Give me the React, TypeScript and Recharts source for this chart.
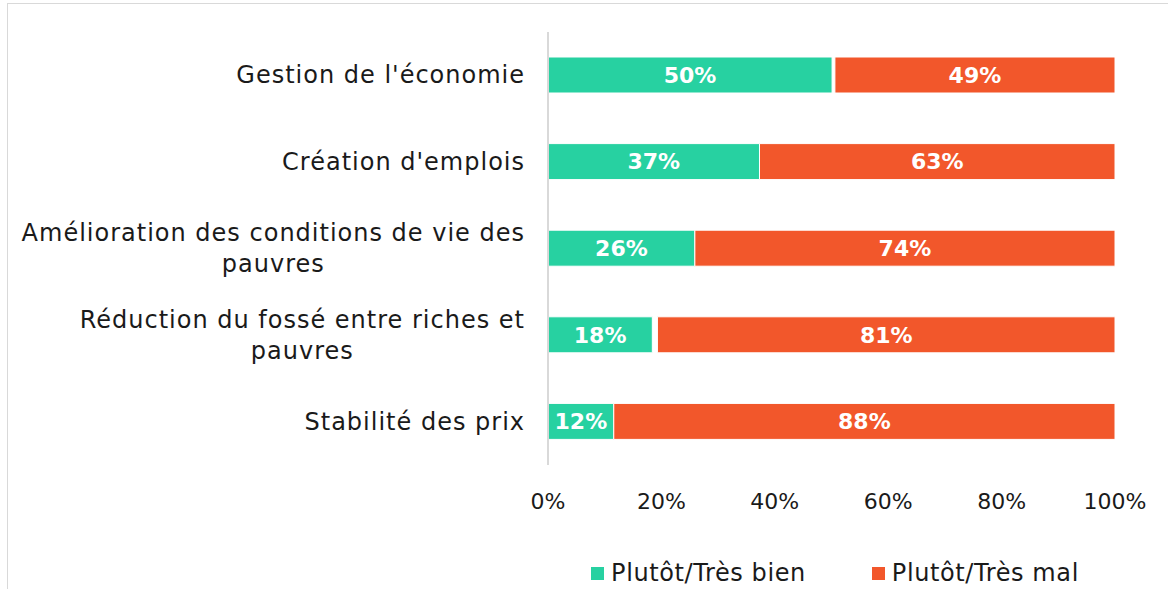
import React from "react";
import { BarChart, Bar, XAxis, YAxis, Legend, LabelList } from "recharts";

const categories = [
  "Gestion de l'économie",
  "Création d'emplois",
  "Amélioration des conditions de vie des pauvres",
  "Réduction du fossé entre riches et pauvres",
  "Stabilité des prix",
];
const bienValues = [50.1, 37.3, 25.9, 18.4, 11.6];
const gapValues = [0.5, 0, 0, 0.9, 0];
const malValues = [49.4, 62.7, 74.1, 81.1, 88.4];
const xTicks = [0, 20, 40, 60, 80, 100];
const seriesNames = ["Plutôt/Très bien", "Plutôt/Très mal"];
const seriesColors = ["#27D1A1", "#F2572B"];

const FONT = "'DejaVu Sans', sans-serif";
const LABEL_SIZE = 24;
const LABEL_LS = 1.0;

const data = categories.map((c, i) => ({ name: c, bien: bienValues[i], gap: gapValues[i], mal: malValues[i] }));

let ctx: CanvasRenderingContext2D | null = null;
function measure(t: string): number {
  if (!ctx) {
    const c = document.createElement("canvas");
    ctx = c.getContext("2d");
  }
  if (!ctx) return t.length * LABEL_SIZE * 0.6;
  ctx.font = `${LABEL_SIZE}px 'DejaVu Sans'`;
  return ctx.measureText(t).width + t.length * LABEL_LS;
}

function wrap(text: string, maxW: number): string[] {
  const words = text.split(" ");
  const lines: string[] = [];
  let cur = "";
  for (const w of words) {
    const cand = cur ? cur + " " + w : w;
    if (cur && measure(cand) > maxW) {
      lines.push(cur);
      cur = w;
    } else cur = cand;
  }
  if (cur) lines.push(cur);
  return lines;
}

const CatTick = (props: any) => {
  const { x, y, payload } = props;
  const lines = wrap(String(payload.value), 530);
  const bw = Math.max(...lines.map(measure));
  const cx = x - bw / 2;
  const lh = 31;
  return (
    <g>
      {lines.map((l, i) => (
        <text
          key={i}
          x={cx}
          y={y + (i - (lines.length - 1) / 2) * lh}
          textAnchor="middle"
          dominantBaseline="central"
          fontFamily={FONT}
          fontSize={LABEL_SIZE}
          letterSpacing={LABEL_LS}
          fill="#1a1a1a"
        >
          {l}
        </text>
      ))}
    </g>
  );
};

const LegendContent = () => (
  <div style={{ display: "flex", justifyContent: "center", alignItems: "center", height: 40, fontFamily: FONT, fontSize: 24, letterSpacing: 0.6, color: "#1a1a1a" }}>
    {seriesNames.map((n, i) => (
      <div key={n} style={{ display: "flex", alignItems: "center", marginLeft: i ? 66 : 0 }}>
        <span style={{ width: 13, height: 13, background: seriesColors[i], display: "inline-block", marginRight: 7 }} />
        <span>{n}</span>
      </div>
    ))}
  </div>
);

const pct = (v: any) => `${Math.round(Number(v))}%`;

export default function App() {
  return (
    <div style={{ position: "fixed", left: 0, top: 0, width: 1168, height: 589, overflow: "hidden", background: "#fff" }}>
      <div style={{ position: "absolute", left: 7, top: 3, width: 1161, height: 1, background: "#d9d9d9" }} />
      <div style={{ position: "absolute", left: 7, top: 3, width: 1, height: 586, background: "#d9d9d9" }} />
      <div style={{ position: "absolute", left: 0, top: 0 }}>
        <BarChart
          width={1168}
          height={589}
          data={data}
          layout="vertical"
          margin={{ top: 32, right: 53, bottom: 24, left: 8 }}
        >
          <XAxis
            type="number"
            domain={[0, 100]}
            allowDataOverflow
            ticks={xTicks}
            tickFormatter={(v: number) => `${v}%`}
            axisLine={false}
            tickLine={false}
            height={60}
            tickMargin={22}
            tick={{ fontFamily: FONT, fontSize: 22, fill: "#1a1a1a" }}
            interval={0}
          />
          <YAxis
            type="category"
            dataKey="name"
            width={540}
            axisLine={{ stroke: "#d9d9d9", strokeWidth: 2 }}
            tickLine={false}
            tickMargin={17}
            tick={<CatTick />}
            interval={0}
          />
          <Legend
            verticalAlign="bottom"
            content={<LegendContent />}
            wrapperStyle={{ top: 553, left: 435, width: 800 }}
          />
          <Bar dataKey="bien" name={seriesNames[0]} stackId="a" fill={seriesColors[0]} stroke="#fff" strokeWidth={1} barSize={36} isAnimationActive={false}>
            <LabelList dataKey="bien" position="center" formatter={pct} fill="#fff" fontFamily={FONT} fontWeight="bold" fontSize={22} />
          </Bar>
          <Bar dataKey="gap" stackId="a" fill="transparent" barSize={36} isAnimationActive={false} legendType="none" />
          <Bar dataKey="mal" name={seriesNames[1]} stackId="a" fill={seriesColors[1]} stroke="#fff" strokeWidth={1} barSize={36} isAnimationActive={false}>
            <LabelList dataKey="mal" position="center" formatter={pct} fill="#fff" fontFamily={FONT} fontWeight="bold" fontSize={22} />
          </Bar>
        </BarChart>
      </div>
    </div>
  );
}
